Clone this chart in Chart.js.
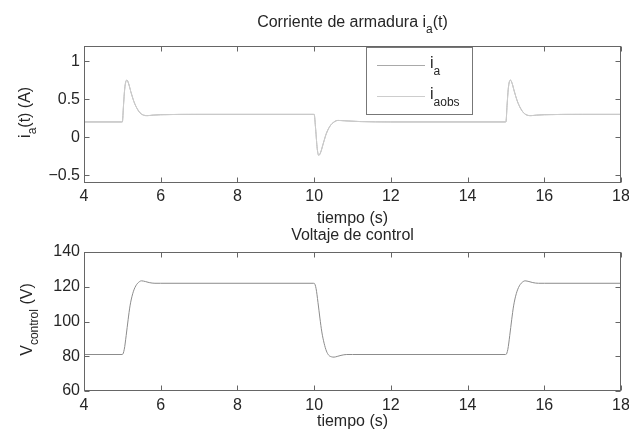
<!DOCTYPE html>
<html>
<head>
<meta charset="UTF-8">
<title>Corriente de armadura</title>
<script src="https://cdn.jsdelivr.net/npm/chart.js@4/dist/chart.umd.min.js"></script>
<style>
  body { margin: 0; background: #fff; }
  #wrap { position: relative; width: 629px; height: 434px; }
  canvas { position: absolute; left: 0; top: 0; }
</style>
</head>
<body>
<div id="wrap">
  <canvas id="top" width="629" height="434"></canvas>
  <canvas id="bottom" width="629" height="434"></canvas>
</div>
<script>
// ---- data ----
const timeA = [4, 4.99, 5.0, 5.03, 5.06, 5.09, 5.12, 5.16, 5.22, 5.3, 5.38, 5.46, 5.55, 5.65, 5.8, 6, 7,
  9.99, 10.0, 10.04, 10.08, 10.12, 10.17, 10.24, 10.32, 10.42, 10.52, 10.62, 10.8, 11.2, 12,
  14.99, 15.0, 15.03, 15.06, 15.09, 15.12, 15.16, 15.22, 15.3, 15.38, 15.46, 15.55, 15.65, 15.8, 16, 17, 18];
const iaValues = [0.2, 0.2, 0.2, 0.42, 0.63, 0.73, 0.75, 0.71, 0.6, 0.47, 0.38, 0.32, 0.29, 0.283, 0.29, 0.295, 0.3,
  0.3, 0.3, 0.1, -0.15, -0.24, -0.2, -0.08, 0.05, 0.15, 0.2, 0.22, 0.215, 0.205, 0.2,
  0.2, 0.2, 0.42, 0.63, 0.73, 0.75, 0.71, 0.6, 0.47, 0.38, 0.32, 0.29, 0.283, 0.29, 0.295, 0.3, 0.3];
const iaObsValues = [0.2, 0.2, 0.2, 0.42, 0.63, 0.73, 0.75, 0.71, 0.6, 0.47, 0.38, 0.32, 0.29, 0.283, 0.29, 0.295, 0.3,
  0.3, 0.3, 0.1, -0.15, -0.24, -0.2, -0.08, 0.05, 0.15, 0.2, 0.22, 0.215, 0.205, 0.2,
  0.2, 0.2, 0.42, 0.63, 0.73, 0.75, 0.71, 0.6, 0.47, 0.38, 0.32, 0.29, 0.283, 0.29, 0.295, 0.3, 0.3];

const timeV = [4, 4.99, 5.0, 5.05, 5.1, 5.15, 5.2, 5.27, 5.35, 5.45, 5.5, 5.6, 5.7, 5.85, 6,
  9.99, 10.0, 10.05, 10.1, 10.15, 10.2, 10.26, 10.32, 10.38, 10.45, 10.52, 10.6, 10.7, 10.85, 11,
  14.99, 15.0, 15.05, 15.1, 15.15, 15.2, 15.27, 15.35, 15.45, 15.5, 15.6, 15.7, 15.85, 16, 18];
const vControl = [81, 81, 81, 84, 92, 101, 109, 116, 120.5, 123, 123.4, 123, 122.4, 122, 122,
  122, 122, 119, 111, 102, 94, 87.5, 83, 80.6, 79.7, 79.5, 79.9, 80.5, 81, 81,
  81, 81, 84, 92, 101, 109, 116, 120.5, 123, 123.4, 123, 122.4, 122, 122, 122];

const xTicks = [4, 6, 8, 10, 12, 14, 16, 18];
const iaTicks = [-0.5, 0, 0.5, 1];
const iaTickLabels = ['\u22120.5', '0', '0.5', '1'];
const vTicks = [60, 80, 100, 120, 140];
const vTickLabels = ['60', '80', '100', '120', '140'];

const seriesNames = ['i_{a}', 'i_{aobs}'];
const plotTitles = ['Corriente de armadura i_{a}(t)', 'Voltaje de control'];
const yTitles = ['i_{a}(t) (A)', 'V_{control} (V)'];
const xTitle = 'tiempo (s)';

// ---- styling ----
const FAMILY = '"Liberation Sans", Arial, Helvetica, sans-serif';
const TEXT = '#262626';
const BOX = '#666666';

// draws text where _{...} marks a subscript
function richText(ctx, str, x, y, opt) {
  const parts = str.split(/_\{([^}]*)\}/);
  const main = '16px ' + FAMILY, sub = (opt.subSize || 12) + 'px ' + FAMILY;
  ctx.save();
  ctx.translate(x, y);
  if (opt.rotate) ctx.rotate(opt.rotate);
  ctx.fillStyle = TEXT;
  ctx.textBaseline = 'alphabetic';
  ctx.textAlign = 'left';
  let w = 0;
  parts.forEach((p, i) => { ctx.font = i % 2 ? sub : main; w += ctx.measureText(p).width; });
  let cx = opt.align === 'center' ? -w / 2 : 0;
  parts.forEach((p, i) => {
    ctx.font = i % 2 ? sub : main;
    ctx.fillText(p, cx, i % 2 ? opt.subShift : 0);
    cx += ctx.measureText(p).width;
  });
  ctx.restore();
}

const matlabFrame = {
  id: 'matlabFrame',
  afterDraw(chart, args, o) {
    const ctx = chart.ctx;
    const a = chart.chartArea;
    const xs = chart.scales.x, ys = chart.scales.y;
    ctx.save();
    ctx.strokeStyle = BOX;
    ctx.lineWidth = 1;
    const L = Math.round(a.left) + 0.5, R = Math.round(a.right) - 0.5;
    const T = Math.round(a.top) + 0.5, B = Math.round(a.bottom) - 0.5;
    ctx.strokeRect(L, T, R - L, B - T);
    ctx.beginPath();
    xs.ticks.forEach(t => {
      const px = Math.round(xs.getPixelForValue(t.value)) + 0.5;
      ctx.moveTo(px, B); ctx.lineTo(px, B - 5);
      ctx.moveTo(px, T); ctx.lineTo(px, T + 5);
    });
    ys.ticks.forEach(t => {
      const py = Math.round(ys.getPixelForValue(t.value)) + 0.5;
      ctx.moveTo(L, py); ctx.lineTo(L + 5, py);
      ctx.moveTo(R, py); ctx.lineTo(R - 5, py);
    });
    ctx.stroke();
    ctx.restore();

    richText(ctx, o.title, (a.left + a.right) / 2, o.titleY, { align: 'center', subShift: 6, subSize: 12 });
    richText(ctx, o.yTitle, o.yTitleX, (a.top + a.bottom) / 2 - 2,
      { align: 'center', rotate: -Math.PI / 2, subShift: 6, subSize: 12 });

    if (o.legend) {
      const lg = o.legend;
      ctx.save();
      ctx.fillStyle = '#fff';
      ctx.fillRect(lg.x, lg.y, lg.w, lg.h);
      ctx.strokeStyle = '#777';
      ctx.strokeRect(lg.x + 0.5, lg.y + 0.5, lg.w, lg.h);
      chart.data.datasets.forEach((ds, i) => {
        const ly = lg.rows[i];
        ctx.strokeStyle = ds.borderColor;
        ctx.beginPath();
        ctx.moveTo(lg.x + 11, ly + 0.5);
        ctx.lineTo(lg.x + 59, ly + 0.5);
        ctx.stroke();
        richText(ctx, seriesNames[i], lg.x + 64, ly + 3, { subShift: 7, subSize: 12 });
      });
      ctx.restore();
    }
  }
};

function axisFont() { return { family: FAMILY, size: 16 }; }

function makeChart(id, datasets, cfg) {
  return new Chart(document.getElementById(id), {
    type: 'line',
    data: { datasets: datasets },
    options: {
      responsive: false,
      animation: false,
      layout: { padding: cfg.padding },
      elements: { point: { radius: 0 }, line: { borderWidth: 1, cubicInterpolationMode: 'monotone' } },
      scales: {
        x: {
          type: 'linear', min: 4, max: 18,
          grid: { display: false, drawTicks: false },
          border: { display: false },
          afterBuildTicks: s => { s.ticks = xTicks.map(v => ({ value: v })); },
          afterFit: s => { s.height = cfg.xHeight; s.paddingLeft = 0; s.paddingRight = 8; },
          ticks: { font: axisFont(), color: TEXT, padding: cfg.xTickPad, maxRotation: 0, callback: v => String(v) },
          title: { display: true, text: xTitle, font: axisFont(), color: TEXT, padding: { top: 0, bottom: cfg.xTitlePad } }
        },
        y: {
          type: 'linear', min: cfg.yMin, max: cfg.yMax,
          grid: { display: false, drawTicks: false },
          border: { display: false },
          afterBuildTicks: s => { s.ticks = cfg.yTicks.map(v => ({ value: v })); },
          afterFit: s => { s.width = 84; },
          ticks: { font: axisFont(), color: TEXT, padding: 4,
            callback: v => cfg.yLabels[cfg.yTicks.indexOf(v)] }
        }
      },
      plugins: {
        legend: { display: false },
        tooltip: { enabled: false },
        matlabFrame: cfg.frame
      }
    },
    plugins: [matlabFrame]
  });
}

makeChart('top', [
  { label: 'i_a', data: timeA.map((t, i) => ({ x: t, y: iaValues[i] })), borderColor: '#a9a9a9', order: 1 },
  { label: 'i_aobs', data: timeA.map((t, i) => ({ x: t, y: iaObsValues[i] })), borderColor: '#cdcdcd', order: 0 }
], {
  padding: { top: 46, left: 0, right: 0, bottom: 206 },
  xHeight: 45.3, xTickPad: 4, xTitlePad: 0,
  yMin: -0.6, yMax: 1.2, yTicks: iaTicks, yLabels: iaTickLabels,
  frame: {
    title: plotTitles[0], titleY: 27, yTitle: yTitles[0], yTitleX: 30,
    legend: { x: 366, y: 47, w: 106, h: 67, rows: [65, 96] }
  }
});

makeChart('bottom', [
  { label: 'V_control', data: timeV.map((t, i) => ({ x: t, y: vControl[i] })), borderColor: '#8c8c8c' }
], {
  padding: { top: 252, left: 0, right: 0, bottom: 0 },
  xHeight: 43, xTickPad: 5, xTitlePad: 3,
  yMin: 60, yMax: 140, yTicks: vTicks, yLabels: vTickLabels,
  frame: { title: plotTitles[1], titleY: 240, yTitle: yTitles[1], yTitleX: 32 }
});
</script>
</body>
</html>
